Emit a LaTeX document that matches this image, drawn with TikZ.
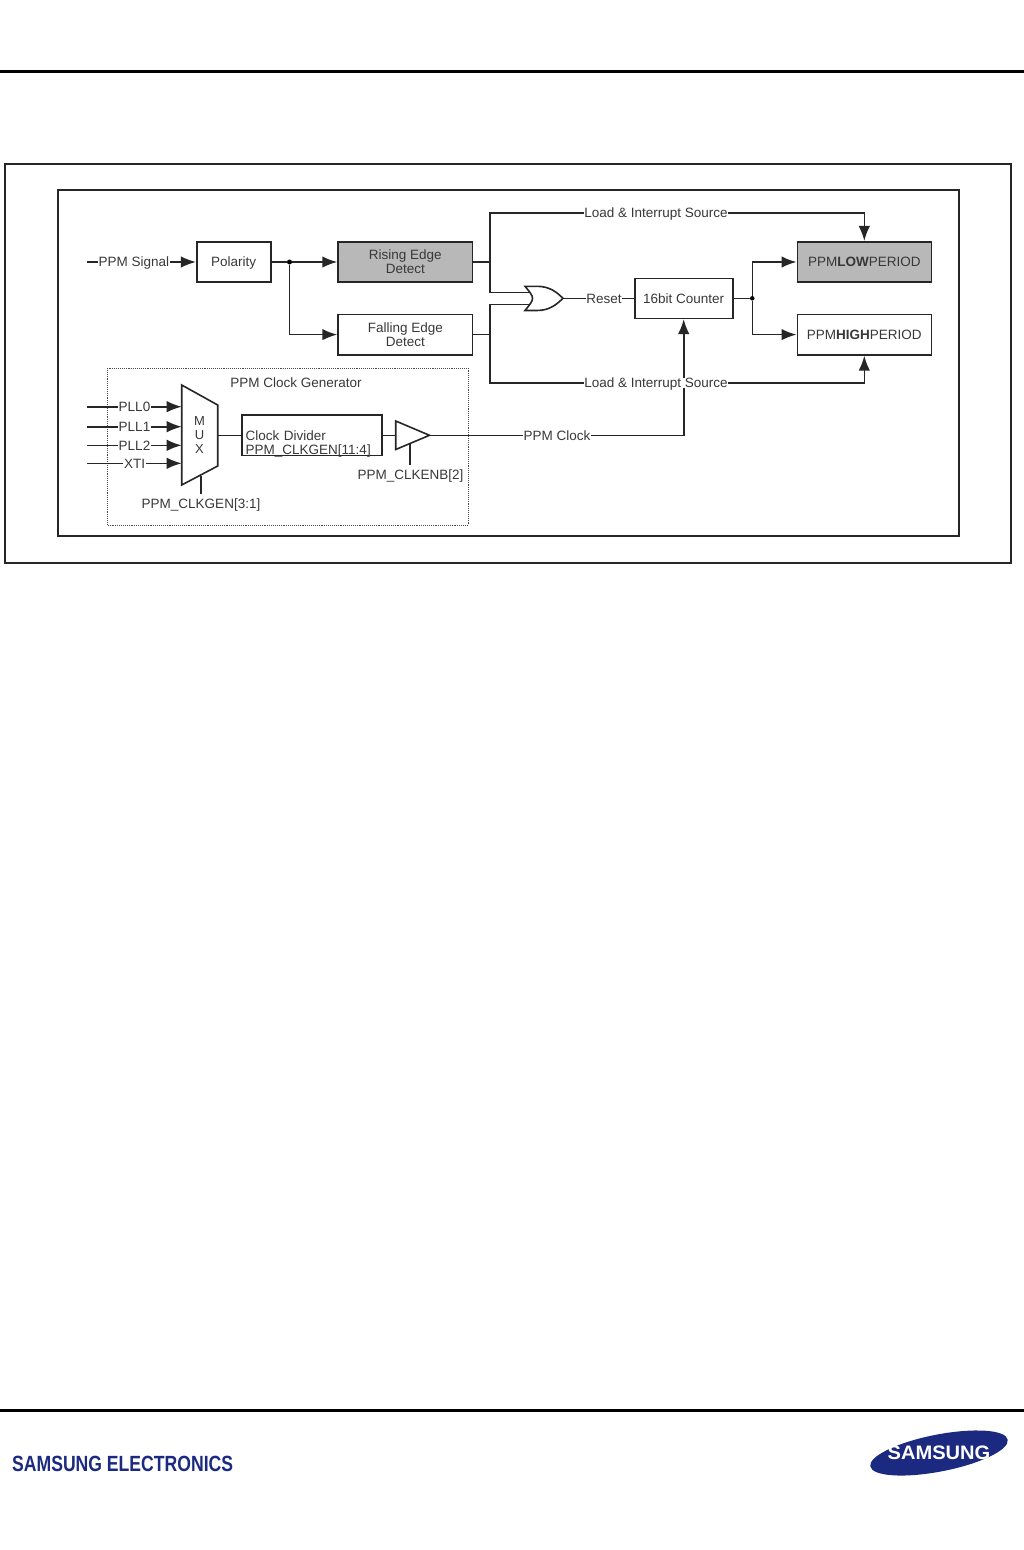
\documentclass[tikz,border=0pt]{standalone}
\usepackage{fontspec}
\setmainfont{Liberation Sans}
\usetikzlibrary{arrows.meta,positioning}
\definecolor{navy}{HTML}{1B2A80}
\definecolor{txt}{gray}{0.22}
\definecolor{shade}{gray}{0.72}
\tikzset{
  wire/.style={line width=1.6pt,draw=black!85},
  arr/.style={wire,-{Latex[length=15pt,width=11.5pt]}},
  blk/.style={draw=black!85,line width=1.6pt,minimum height=0pt,minimum width=0pt,inner sep=0pt,align=center,text=txt,font=\fontsize{13.5}{14}\selectfont},
  lbl/.style={inner sep=0.4pt,text=txt,text height=9.6pt,text depth=0pt,font=\fontsize{13.5}{13.5}\selectfont},
  dotjoin/.style={circle,fill=black,inner sep=0pt,minimum size=5pt},
  frame/.style={draw=black!85}
}
\begin{document}
\begin{tikzpicture}[x=1pt,y=-1pt]
\useasboundingbox (0,0) rectangle (1024,1550);
% page rules
\coordinate (ruleTL) at (0,71.5); \coordinate (ruleTR) at (1024,71.5);
\coordinate (ruleBL) at (0,1410.5); \coordinate (ruleBR) at (1024,1410.5);
\draw[line width=3pt] (ruleTL) -- (ruleTR);
\draw[line width=3pt] (ruleBL) -- (ruleBR);
% frames
\draw[frame,line width=1.2pt] (5,164) rectangle (1011,563);
\draw[frame,line width=1.6pt] (58,190) rectangle (959,536);
\draw[black!70,line width=0.9pt,densely dotted] (107,368) rectangle (468,525);
\node[lbl] (gen) at (296,382.5) {PPM Clock Generator};
% blocks
\node[blk,text depth=0pt,minimum width=74pt,minimum height=40.5pt] (pol) at (233.7,262) {Polarity};
\node[blk,fill=shade,minimum width=134.5pt,minimum height=40.5pt] (rise) at (405.3,262) {Rising Edge\\Detect};
\node[blk,minimum width=134.5pt,minimum height=40.5pt] (fall) at (405.3,334.6) {Falling Edge\\Detect};
\node[blk,minimum width=98pt,minimum height=40pt] (cnt) at (683.7,298.3) {16bit Counter};
\node[blk,fill=shade,minimum width=134pt,minimum height=40.5pt] (low) at (864.3,262) {PPM\textbf{LOW}PERIOD};
\node[blk,minimum width=134pt,minimum height=40.5pt] (high) at (864.3,334.6) {PPM\textbf{HIGH}PERIOD};
\node[blk,text depth=0pt,minimum height=40.5pt,inner xsep=4pt,text width=132pt,align=left] (div) at (311.7,435.3) {Clock Divider\\PPM\_CLKGEN[11:4]};
% PPM signal
\coordinate (sigIn) at (87,262);
\node[lbl] (sig) at (134,262) {PPM Signal};
\draw[wire] (sigIn) -- (sig);
\draw[arr] (sig) -- (pol);
\node[dotjoin] (j1) at (289.5,262) {};
\draw[wire] (pol) -- (j1);
\draw[arr] (j1) -- (rise);
\draw[arr] (j1) |- (fall);
% OR gate
\coordinate (orTop) at (525,286.3);
\coordinate (orBot) at (525,310.5);
\coordinate (orIn1) at (528.5,292.3);
\coordinate (orIn2) at (528.5,304.3);
\coordinate (orOut) at (563,298.3);
\draw[wire,fill=white] (orTop) .. controls (535,298.3) .. (orBot)
  -- (537,310.5) .. controls (550,310.5) and (557,304) .. (orOut)
  .. controls (557,292.5) and (550,286.3) .. (537,286.3) -- cycle;
\coordinate (busT) at (490,212.7);
\coordinate (busB) at (490,382.7);
\coordinate (busR) at (490,262);
\coordinate (busF) at (490,334.6);
\coordinate (busO1) at (490,292.3);
\coordinate (busO2) at (490,304.3);
\draw[wire] (rise.east) -- (busR);
\draw[wire] (fall.east) -- (busF);
\draw[wire,line cap=rect] (busO1) -- (busT);
\draw[wire,line cap=rect] (busO2) -- (busB);
\draw[wire] (busO1) -- (orIn1);
\draw[wire] (busO2) -- (orIn2);
% PPM clock to the counter (passes under the lower load label)
\node[lbl] (clk) at (557,435.3) {PPM Clock};
\draw[arr] (clk) -| (cnt);
% upper and lower load lines
\node[lbl] (loadT) at (656,212.7) {Load \& Interrupt Source};
\node[lbl,fill=white] (loadB) at (656,382.7) {Load \& Interrupt Source};
\draw[wire] (busT) -- (loadT);
\draw[wire] (busB) -- (loadB);
\draw[arr] (loadT) -| (low);
\draw[arr] (loadB) -| (high);
% reset
\node[lbl] (rst) at (604,298.3) {Reset};
\draw[wire] (orOut) -- (rst);
\draw[wire] (rst) -- (cnt);
% counter outputs
\node[dotjoin,minimum size=4.5pt] (j2) at (752.3,298.3) {};
\draw[wire] (cnt) -- (j2);
\draw[arr] (j2) |- (low);
\draw[arr] (j2) |- (high);
% MUX
\coordinate (muxA) at (181.7,385);
\coordinate (muxB) at (217.7,405);
\coordinate (muxC) at (217.7,466);
\coordinate (muxD) at (181.7,485);
\draw[wire,line width=1.6pt] (muxA) -- (muxB) -- (muxC) -- (muxD) -- cycle;
\node[lbl,text height=,text depth=,align=center,font=\fontsize{13}{14}\selectfont] (mux) at (199.5,435) {M\\U\\X};
\foreach \nm/\ty/\tx/\lx in {PLL0/406.7/PLL0/134.5,PLL1/426.7/PLL1/134.5,PLL2/445.3/PLL2/134.5,XTI/463.3/XTI/134.5}{
  \coordinate (in\nm) at (87,\ty);
  \coordinate (mi\nm) at (181.7,\ty);
  \node[lbl] (l\nm) at (\lx,\ty) {\tx};
  \draw[wire] (in\nm) -- (l\nm);
  \draw[arr] (l\nm) -- (mi\nm);
}
\coordinate (muxOut) at (217.7,435.3);
\draw[wire] (muxOut) -- (div);
\coordinate (muxSel) at (200.7,475.5);
\coordinate (selEnd) at (200.7,494);
\node[lbl] (sel) at (201,503.5) {PPM\_CLKGEN[3:1]};
\draw[wire] (muxSel) -- (selEnd);
% buffer
\coordinate (bufA) at (395.7,421);
\coordinate (bufB) at (395.7,449.5);
\coordinate (bufT) at (429.5,435.3);
\coordinate (bufIn) at (395.7,435.3);
\coordinate (bufEn) at (410,443.5);
\coordinate (enEnd) at (410,465);
\draw[wire,line width=1.6pt] (bufA) -- (bufT) -- (bufB) -- cycle;
\draw[wire] (div) -- (bufIn);
\node[lbl] (en) at (410.5,475) {PPM\_CLKENB[2]};
\draw[wire] (bufEn) -- (enEnd);
\draw[wire] (bufT) -- (clk);
% footer
\node[inner sep=0pt,anchor=west,text=navy,font=\fontsize{22}{22}\selectfont\bfseries,xscale=0.8] (foot) at (12,1464) {SAMSUNG ELECTRONICS};
\fill[navy,rotate around={11:(939,1453)}] (939,1453) ellipse (70pt and 18.5pt);
\node[inner sep=0pt,text=white,font=\fontsize{19.5}{19.5}\selectfont\bfseries,xscale=1.03] (logo) at (939,1453) {SAMSUNG};
\end{tikzpicture}
\end{document}
